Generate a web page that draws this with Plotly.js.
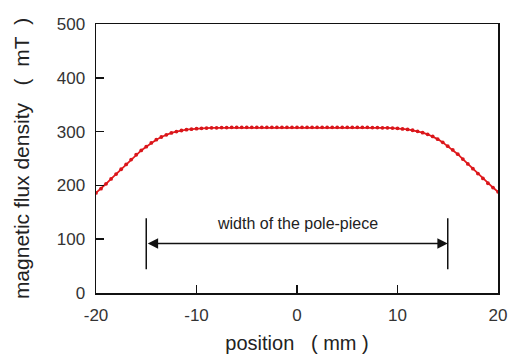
<!DOCTYPE html>
<html>
<head>
<meta charset="utf-8">
<script src="https://cdn.plot.ly/plotly-3.0.1.min.js"></script>
<style>html,body{margin:0;padding:0;background:#fff}#chart{width:510px;height:354px}</style>
</head>
<body>
<div id="chart"></div>
<script>
// position (mm)
const positions = [-20,-19.5,-19,-18.5,-18,-17.5,-17,-16.5,-16,-15.5,-15,-14.5,-14,-13.5,-13,-12.5,-12,-11.5,-11,-10.5,-10,-9.5,-9,-8.5,-8,-7.5,-7,-6.5,-6,-5.5,-5,-4.5,-4,-3.5,-3,-2.5,-2,-1.5,-1,-0.5,0,0.5,1,1.5,2,2.5,3,3.5,4,4.5,5,5.5,6,6.5,7,7.5,8,8.5,9,9.5,10,10.5,11,11.5,12,12.5,13,13.5,14,14.5,15,15.5,16,16.5,17,17.5,18,18.5,19,19.5,20];
// magnetic flux density (mT)
const fluxDensity = [186,194,203,212,221,230,239,248,257,265,272,279,285,290,294,297.5,300,302,303.5,304.5,305.5,306,306.5,307,307,307.5,307.5,308,308,308,308,308,308,308,308,308,308,308,308,308,308,308,308,308,308,308,308,308,308,308,308,308,308,308,308,307.5,307.5,307,307,306.5,306,305,304,302.5,300.5,298,295,291,286,280,273,266,258,249,240,231,222,213,204,196,188];
const xTicks = [-20,-10,0,10,20];
const yTicks = [0,100,200,300,400,500];
const poleEdges = [-15, 15];
const arrowLevel = 92;
const barRange = [44, 139];
const labelText = 'width of the pole-piece';
const labelLevel = 130;

const trace = {
  x: positions, y: fluxDensity, type: 'scatter', mode: 'lines+markers',
  line: {color: '#e31a1c', width: 1.8},
  marker: {color: '#d9161b', size: 3.8},
  hoverinfo: 'skip'
};

const fam = 'Liberation Sans, Arial, sans-serif';
const axisFont = {family: fam, size: 17, color: '#333'};
const layout = {
  width: 510, height: 354,
  margin: {l: 96, r: 12, t: 24, b: 61},
  paper_bgcolor: '#fff', plot_bgcolor: '#fff',
  showlegend: false,
  xaxis: {
    range: [-20, 20], tickvals: xTicks, ticktext: xTicks.map(String),
    ticks: 'inside', ticklen: 8, tickwidth: 1.5, tickcolor: '#111',
    showline: true, linecolor: '#111', linewidth: 1.5, mirror: true,
    showgrid: false, zeroline: false, tickfont: axisFont, ticklabelstandoff: 6,
    title: {text: 'position\u00a0\u00a0\u00a0( mm )', font: {family: fam, size: 20, color: '#222'}, standoff: 14}
  },
  yaxis: {
    range: [0, 500], tickvals: yTicks, ticktext: yTicks.map(String),
    ticks: 'inside', ticklen: 8, tickwidth: 1.5, tickcolor: '#111',
    showline: true, linecolor: '#111', linewidth: 1.5, mirror: true,
    showgrid: false, zeroline: false, tickfont: axisFont, ticklabelstandoff: 6,
    title: {text: 'magnetic flux density\u00a0\u00a0\u00a0(\u00a0\u00a0mT\u00a0\u00a0)', font: {family: fam, size: 21, color: '#222'}, standoff: 21}
  },
  shapes: poleEdges.map(p => ({type: 'line', xref: 'x', yref: 'y', x0: p, x1: p, y0: barRange[0], y1: barRange[1], line: {color: '#111', width: 1.5}})),
  annotations: [
    {x: poleEdges[1], y: arrowLevel, ax: poleEdges[0], ay: arrowLevel, xref: 'x', yref: 'y', axref: 'x', ayref: 'y',
     text: '', showarrow: true, arrowhead: 2, startarrowhead: 2, arrowside: 'end+start', arrowsize: 1.6, arrowwidth: 1.3, arrowcolor: '#111', standoff: 0, startstandoff: 0},
    {x: 0, y: labelLevel, xref: 'x', yref: 'y', text: labelText, showarrow: false,
     font: {family: fam, size: 16, color: '#222'}}
  ]
};
Plotly.newPlot('chart', [trace], layout, {staticPlot: true, displayModeBar: false});
</script>
</body>
</html>
